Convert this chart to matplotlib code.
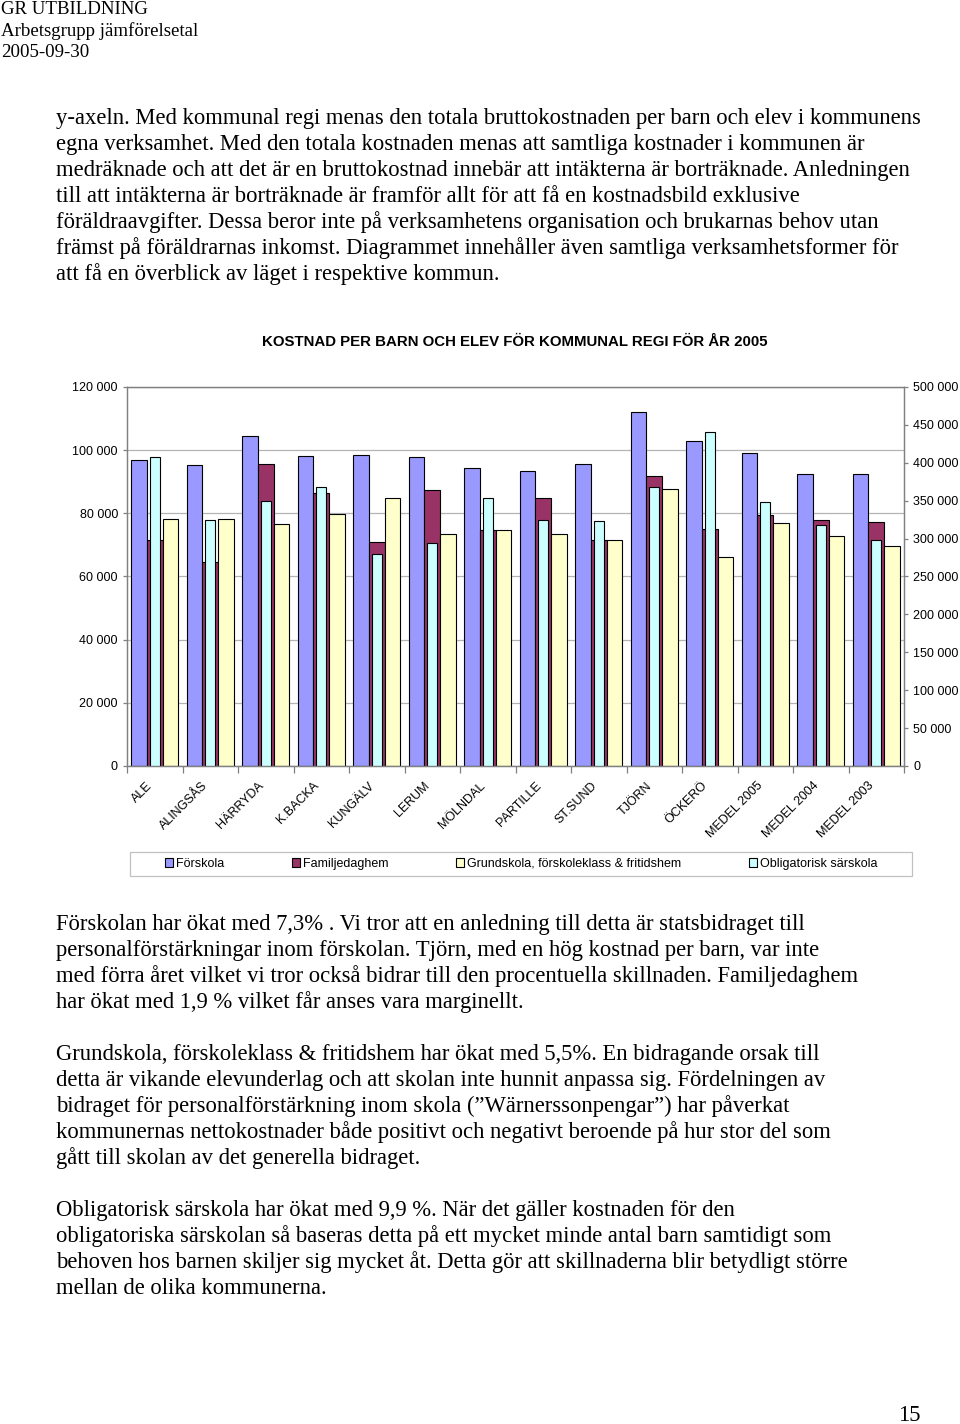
import matplotlib
matplotlib.use("Agg")
import matplotlib.pyplot as plt
from matplotlib.patches import Patch, Rectangle
from matplotlib.ticker import FuncFormatter, FixedLocator
import numpy as np

# ---------------- data ----------------
categories = ["ALE", "ALINGSÅS", "HÄRRYDA", "K.BACKA", "KUNGÄLV", "LERUM", "MÖLNDAL",
              "PARTILLE", "ST.SUND", "TJÖRN", "ÖCKERÖ", "MEDEL 2005", "MEDEL 2004", "MEDEL 2003"]
forskola = [97000, 95300, 104500, 98200, 98600, 97900, 94300,
            93500, 95600, 112100, 103000, 99100, 92300, 92500]
familjedaghem = [71400, 64500, 95600, 86400, 70800, 87300, 74800,
                 84700, 71400, 91700, 75100, 79500, 78000, 77100]
grundskola = [78100, 78100, 76600, 79800, 84800, 73600, 74800,
              73400, 71400, 87600, 66100, 76800, 72800, 69800]
sarskola = [408000, 324800, 349900, 367500, 279500, 293600, 353400,
            324800, 322600, 367500, 440100, 348100, 317300, 298800]

series_names = ["Förskola", "Familjedaghem",
                "Grundskola, förskoleklass & fritidshem", "Obligatorisk särskola"]
colors = ["#9999FF", "#993366", "#FFFFCC", "#CCFFFF"]

title = "KOSTNAD PER BARN OCH ELEV FÖR KOMMUNAL REGI FÖR ÅR 2005"

header_lines = ["GR UTBILDNING", "Arbetsgrupp jämförelsetal", "2005-09-30"]

para1 = [
    "y-axeln. Med kommunal regi menas den totala bruttokostnaden per barn och elev i kommunens",
    "egna verksamhet. Med den totala kostnaden menas att samtliga kostnader i kommunen är",
    "medräknade och att det är en bruttokostnad innebär att intäkterna är borträknade. Anledningen",
    "till att intäkterna är borträknade är framför allt för att få en kostnadsbild exklusive",
    "föräldraavgifter. Dessa beror inte på verksamhetens organisation och brukarnas behov utan",
    "främst på föräldrarnas inkomst. Diagrammet innehåller även samtliga verksamhetsformer för",
    "att få en överblick av läget i respektive kommun.",
]
para2 = [
    "Förskolan har ökat med 7,3% . Vi tror att en anledning till detta är statsbidraget till",
    "personalförstärkningar inom förskolan. Tjörn, med en hög kostnad per barn, var inte",
    "med förra året vilket vi tror också bidrar till den procentuella skillnaden. Familjedaghem",
    "har ökat med 1,9 % vilket får anses vara marginellt.",
]
para3 = [
    "Grundskola, förskoleklass & fritidshem har ökat med 5,5%. En bidragande orsak till",
    "detta är vikande elevunderlag och att skolan inte hunnit anpassa sig. Fördelningen av",
    "bidraget för personalförstärkning inom skola (\u201dWärnerssonpengar\u201d) har påverkat",
    "kommunernas nettokostnader både positivt och negativt beroende på hur stor del som",
    "gått till skolan av det generella bidraget.",
]
para4 = [
    "Obligatorisk särskola har ökat med 9,9 %. När det gäller kostnaden för den",
    "obligatoriska särskolan så baseras detta på ett mycket minde antal barn samtidigt som",
    "behoven hos barnen skiljer sig mycket åt. Detta gör att skillnaderna blir betydligt större",
    "mellan de olika kommunerna.",
]
page_number = "15"

# ---------------- figure ----------------
W, H = 960, 1424
fig = plt.figure(figsize=(W / 100, H / 100), dpi=100)
fig.patch.set_facecolor("white")

def fx(x):
    return x / W

def fy(y):
    return 1 - y / H

serif = "Liberation Serif"
sans = "Liberation Sans"

# header
for line, yb in zip(header_lines, [14, 36, 57]):
    fig.text(fx(1), fy(yb), line, family=serif, fontsize=13.6, va="baseline", ha="left")

# body text
body_size = 16.25
for lines, y0 in [(para1, 124), (para2, 930), (para3, 1060), (para4, 1216)]:
    for i, line in enumerate(lines):
        fig.text(fx(56), fy(y0 + 26 * i), line, family=serif, fontsize=body_size,
                 va="baseline", ha="left")

fig.text(fx(921), fy(1421), page_number, family=serif, fontsize=body_size,
         va="baseline", ha="right")

# chart title
fig.text(fx(515), fy(342), title, family=sans, fontsize=10.8, fontweight="bold",
         ha="center", va="center")

# ---------------- chart ----------------
ax_left, ax_right, ax_top, ax_bottom = 127, 904, 387, 766
ax = fig.add_axes([fx(ax_left), fy(ax_bottom), (ax_right - ax_left) / W,
                   (ax_bottom - ax_top) / H])
ax2 = ax.twinx()

n = len(categories)
x = np.arange(n) + 0.5
bw = 0.285
ax.bar(x - bw, forskola, bw, color=colors[0], edgecolor="black", linewidth=0.8, zorder=2)
ax.bar(x, familjedaghem, bw, color=colors[1], edgecolor="black", linewidth=0.8, zorder=2)
ax.bar(x + bw, grundskola, bw, color=colors[2], edgecolor="black", linewidth=0.8, zorder=2)
ax2.bar(x, sarskola, 0.175, color=colors[3], edgecolor="black", linewidth=0.8, zorder=2)

ax.set_xlim(0, n)
ax.set_ylim(0, 120000)
ax2.set_ylim(0, 500000)

fmt = FuncFormatter(lambda v, p: f"{int(v):,}".replace(",", " "))
ax.set_yticks(np.arange(0, 120001, 20000))
ax.yaxis.set_major_formatter(fmt)
ax2.set_yticks(np.arange(0, 500001, 50000))
ax2.yaxis.set_major_formatter(fmt)

ax.grid(axis="y", color="#b4b4b4", linewidth=0.9, zorder=0)
ax.set_axisbelow(True)

for a in (ax, ax2):
    for s in a.spines.values():
        s.set_color("#808080")
        s.set_linewidth(0.9)

ax.tick_params(axis="y", direction="out", length=3, width=0.9, color="#808080",
               pad=3.5, labelsize=9, labelfontfamily=sans)
ax2.tick_params(axis="y", direction="out", length=3, width=0.9, color="#808080",
                pad=3.5, labelsize=9, labelfontfamily=sans)

# x axis: tick marks at category boundaries, labels near the category centres
ax.xaxis.set_major_locator(FixedLocator(np.arange(n + 1)))
ax.tick_params(axis="x", which="major", direction="out", length=5, width=0.9,
               color="#808080", labelbottom=False)
ax.set_xticks(x - 0.15, minor=True)
ax.set_xticklabels(categories, minor=True, rotation=45, ha="right",
                   rotation_mode="anchor", fontsize=9, family=sans)
ax.tick_params(axis="x", which="minor", length=0, pad=10)

# legend
handles = [Patch(facecolor=c, edgecolor="black", linewidth=0.8) for c in colors]
fig.legend(handles, series_names, loc="center", bbox_to_anchor=(fx(521), fy(864)),
           ncol=4, frameon=False, prop={"family": sans, "size": 9},
           handlelength=0.64, handleheight=0.64, handletextpad=0.25,
           columnspacing=5.4, borderaxespad=0, borderpad=0)
fig.patches.append(Rectangle((fx(130), fy(876)), (912 - 130) / W, (876 - 852) / H,
                             transform=fig.transFigure, facecolor="none",
                             edgecolor="#c0c0c0", linewidth=0.9))

fig.savefig("out.png", dpi=100)
